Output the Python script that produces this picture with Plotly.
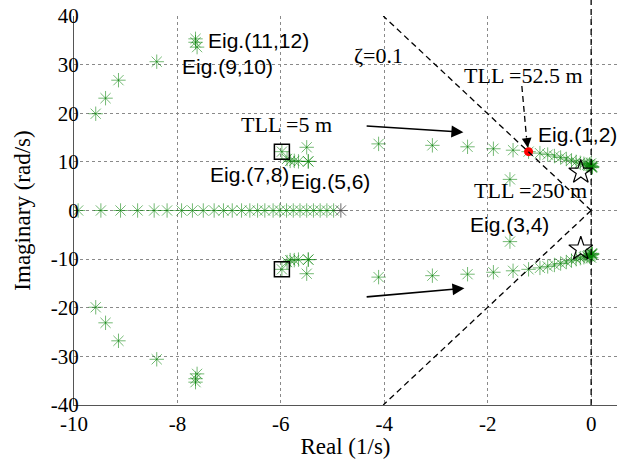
import plotly.graph_objects as go

# Upper-half eigenvalues (complex conjugate pairs are mirrored below the real axis)
path12_re = [-4.11, -3.07, -2.39, -1.89, -1.51, -1.21, -0.99, -0.84, -0.71, -0.59,
             -0.48, -0.38, -0.29, -0.21, -0.14, -0.08, -0.04, -0.01, 0.01, 0.02,
             0.02, 0.01, -0.03, 0.0]
path12_im = [13.7, 13.4, 13.1, 12.7, 12.4, 12.1, 11.8, 11.5, 11.2, 10.9,
             10.6, 10.3, 10.0, 9.8, 9.6, 9.4, 9.3, 9.2, 9.1, 9.0,
             8.9, 8.8, 9.5, 9.7]

eig34_re = [-1.57]
eig34_im = [6.4]

eig5678_re = [-5.98, -5.88, -5.82, -5.74, -5.66, -5.50, -5.47, -5.47]
eig5678_im = [12.1, 10.6, 10.2, 10.2, 10.1, 13.0, 10.1, 10.1]

eig910_re = [-9.58, -9.39, -9.14, -8.40]
eig910_im = [19.9, 23.1, 26.8, 30.6]

eig1112_re = [-7.65, -7.65, -7.62]
eig1112_im = [35.3, 34.6, 33.6]

# Real eigenvalues
real_re = [-9.92, -9.48, -9.10, -8.77, -8.45, -8.20, -7.92, -7.71, -7.50, -7.29,
           -7.11, -6.94, -6.76, -6.60, -6.45, -6.31, -6.15, -6.02, -5.89, -5.76,
           -5.63, -5.50, -5.37, -5.24, -5.11, -4.98]
real_last = [-4.84]

# Highlighted eigenvalues
square_re, square_im = [-5.98], [12.1]          # TLL = 5 m
critical_re, critical_im = [-1.21], [12.1]      # TLL = 52.5 m
star_re, star_im = [-0.20], [7.9]               # TLL = 250 m

zeta = 0.1
zeta_slope = zeta / (1 - zeta ** 2) ** 0.5      # |sigma| / omega on the damping line

x_ticks = [-10, -8, -6, -4, -2, 0]
y_ticks = [-40, -30, -20, -10, 0, 10, 20, 30, 40]

upper_re = path12_re + eig34_re + eig5678_re + eig910_re + eig1112_re
upper_im = path12_im + eig34_im + eig5678_im + eig910_im + eig1112_im

GREEN = "rgba(0,128,0,0.55)"
GRAY = "rgba(70,70,70,0.8)"
SERIF = "Liberation Serif, Times New Roman, serif"
SANS = "Liberation Sans, Arial, sans-serif"

fig = go.Figure()

star_marker = dict(symbol="asterisk-open", size=12, color=GREEN,
                   line=dict(color=GREEN, width=1))

fig.add_trace(go.Scatter(
    x=upper_re + upper_re,
    y=upper_im + [-v for v in upper_im],
    mode="markers", marker=star_marker))

fig.add_trace(go.Scatter(
    x=real_re, y=[0] * len(real_re), mode="markers", marker=star_marker))

fig.add_trace(go.Scatter(
    x=real_last, y=[0], mode="markers",
    marker=dict(symbol="asterisk-open", size=12, color=GRAY,
                line=dict(color=GRAY, width=1))))

fig.add_trace(go.Scatter(
    x=square_re * 2, y=square_im + [-v for v in square_im], mode="markers",
    marker=dict(symbol="square-open", size=15, color="black",
                line=dict(color="black", width=1.5))))

fig.add_trace(go.Scatter(
    x=star_re * 2, y=star_im + [-v for v in star_im], mode="markers",
    marker=dict(symbol="star-open", size=18, color="black",
                line=dict(color="black", width=1.2))))

fig.add_trace(go.Scatter(
    x=critical_re, y=critical_im, mode="markers",
    marker=dict(symbol="circle", size=9, color="red",
                line=dict(color="red", width=0))))

# Damping-ratio boundary and imaginary axis
for sign in (1, -1):
    fig.add_shape(type="line", x0=0, y0=0, x1=-zeta_slope * 40, y1=sign * 40,
                  line=dict(color="black", width=1.3, dash="6px,4px"))
fig.add_shape(type="line", xref="x", yref="paper", x0=0, x1=0, y0=0, y1=1.045,
              line=dict(color="black", width=1.3, dash="6px,4px"))

# Dashed pointer to the critical eigenvalue
fig.add_shape(type="line", x0=-1.34, y0=25.6, x1=-1.25, y1=15.0,
              line=dict(color="black", width=1.3, dash="6px,4px"))

annotations = [
    dict(x=-1.225, y=12.9, ax=-1.25, ay=15.2, axref="x", ayref="y",
         text="", showarrow=True, arrowhead=2, arrowsize=1.5, arrowwidth=1.3,
         arrowcolor="black"),
    dict(x=-2.47, y=16.1, ax=-4.37, ay=17.4, axref="x", ayref="y",
         text="", showarrow=True, arrowhead=2, arrowsize=1.5, arrowwidth=1.6,
         arrowcolor="black"),
    dict(x=-2.45, y=-16.0, ax=-4.37, ay=-17.8, axref="x", ayref="y",
         text="", showarrow=True, arrowhead=2, arrowsize=1.5, arrowwidth=1.6,
         arrowcolor="black"),
]

sans_labels = [
    ("Eig.(11,12)", -7.45, 34.9),
    ("Eig.(9,10)", -7.96, 29.7),
    ("Eig.(7,8)", -7.41, 7.35),
    ("Eig.(5,6)", -5.84, 5.9),
    ("Eig.(1,2)", -1.07, 15.7),
    ("Eig.(3,4)", -2.38, -2.86),
]
for text, x, y in sans_labels:
    annotations.append(dict(x=x, y=y, text=text, showarrow=False,
                            xanchor="left", yanchor="middle",
                            font=dict(family=SANS, size=21, color="black")))

serif_labels = [
    ("TLL =52.5 m", -2.49, 27.8),
    ("TLL =5 m", -6.81, 17.6),
    ("TLL =250 m", -2.30, 4.1),
    ("ζ=0.1", -4.62, 31.9),
]
for text, x, y in serif_labels:
    annotations.append(dict(x=x, y=y, text=text, showarrow=False,
                            xanchor="left", yanchor="middle",
                            font=dict(family=SERIF, size=22, color="black")))

axis_common = dict(
    showgrid=True, gridcolor="#8a8a8a", griddash="dot", gridwidth=1,
    showline=True, linecolor="#555555", linewidth=1, zeroline=False,
    ticks="", ticklen=0, tickfont=dict(family=SERIF, size=21, color="black"),
)

fig.update_layout(
    width=621, height=459,
    margin=dict(l=74, r=4, t=16, b=51),
    paper_bgcolor="white", plot_bgcolor="white",
    showlegend=False,
    annotations=annotations,
    xaxis=dict(range=[-10, 0.5], tickvals=x_ticks,
               ticktext=[str(v) for v in x_ticks],
               title=dict(text="Real (1/s)", standoff=3,
                          font=dict(family=SERIF, size=23, color="black")),
               **axis_common),
    yaxis=dict(range=[-40, 40], tickvals=y_ticks,
               ticktext=[str(v) for v in y_ticks],
               ticklabelstandoff=-10,
               title=dict(text="Imaginary (rad/s)", standoff=13,
                          font=dict(family=SERIF, size=23, color="black")),
               **axis_common),
)

fig.write_html("out.html")
